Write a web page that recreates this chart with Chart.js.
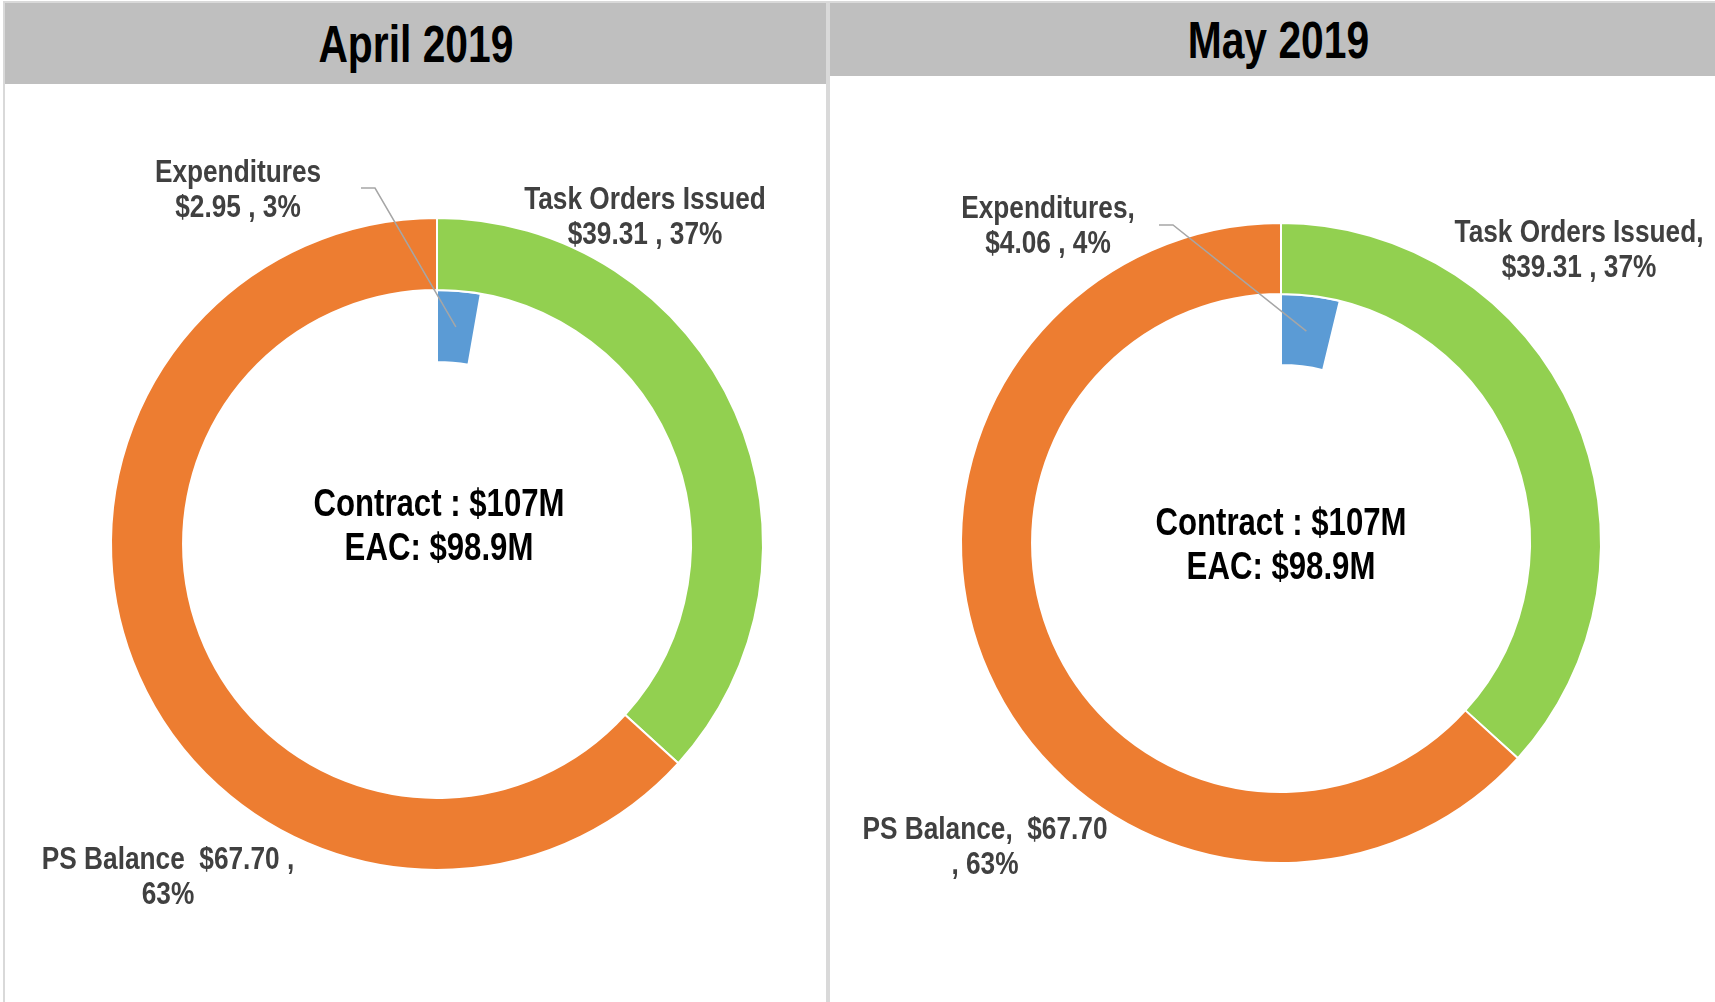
<!DOCTYPE html>
<html>
<head>
<meta charset="utf-8">
<script src="https://cdn.jsdelivr.net/npm/chart.js"></script>
<style>
  html, body { margin: 0; padding: 0; background: #fff; }
  body { width: 1715px; height: 1002px; position: relative; overflow: hidden;
         font-family: "Liberation Sans Narrow", "Arial Narrow", "Liberation Sans", sans-serif; }
  .panel { position: absolute; border: 2px solid #d9d9d9; box-sizing: border-box; background: #fff; }
  .panel .head { position: absolute; left: 0; top: 0; right: 0; background: #bfbfbf;
                 color: #000; font-weight: bold; font-size: 51px; text-align: center; }
  .panel .head span { display: inline-block; transform: scaleX(0.8); }
  #aprilPanel { left: 3px; top: 1px; width: 825px; height: 1010px; }
  #aprilPanel .head { height: 81px; line-height: 84px; }
  #mayPanel { left: 828px; top: 1px; width: 900px; height: 1010px; }
  #mayPanel .head { height: 73px; line-height: 76px; }
  canvas { position: absolute; }
  #aprilChart { left: 5px; top: 83px; }
  #mayChart { left: 830px; top: 75px; }
</style>
</head>
<body>
<div class="panel" id="aprilPanel"><div class="head"><span>April 2019</span></div></div>
<div class="panel" id="mayPanel"><div class="head"><span>May 2019</span></div></div>
<canvas id="aprilChart" width="820" height="919"></canvas>
<canvas id="mayChart" width="885" height="927"></canvas>
<script>
// Data ($M)
const categories = ['Task Orders Issued', 'PS Balance'];
const innerCategory = 'Expenditures';
const aprilValues = [39.31, 67.70];
const aprilPercents = [37, 63];
const aprilExpenditure = 2.95;
const aprilExpPercent = 3;
const mayValues = [39.31, 67.70];
const mayPercents = [37, 63];
const mayExpenditure = 4.06;
const mayExpPercent = 4;
const centerLines = ['Contract : $107M', 'EAC: $98.9M'];

const colors = ['#92d050', '#ed7d31'];
const expColor = '#5b9bd5';
const fontFamily = '"Liberation Sans Narrow", "Arial Narrow", "Liberation Sans", sans-serif';
const labelFont = 'bold 32px ' + fontFamily;
const centerFont = 'bold 38px ' + fontFamily;
const narrow = 0.82; // squeeze, no narrow font installed

function narrowText(ctx, t, x, y) {
    ctx.save();
    ctx.translate(x, y);
    ctx.scale(narrow, 1);
    ctx.fillText(t, 0, 0);
    ctx.restore();
}

// draws the data labels, leader line and the center text
const labelPlugin = {
    id: 'labelPlugin',
    afterDraw(chart, args, opts) {
        const ctx = chart.ctx;
        const meta0 = chart.getDatasetMeta(0);
        const cx = meta0.data[0].x;
        const cy = meta0.data[0].y;
        ctx.save();
        ctx.textAlign = 'center';
        ctx.textBaseline = 'middle';

        // leader line to the expenditures wedge
        const exp = chart.getDatasetMeta(1).data[0].getCenterPoint();
        ctx.strokeStyle = '#a6a6a6';
        ctx.lineWidth = 1.5;
        ctx.beginPath();
        ctx.moveTo(cx + opts.leader[0][0], cy + opts.leader[0][1]);
        ctx.lineTo(cx + opts.leader[1][0], cy + opts.leader[1][1]);
        ctx.lineTo(exp.x, exp.y);
        ctx.stroke();

        ctx.font = labelFont;
        ctx.fillStyle = '#404040';
        opts.labels.forEach(l => {
            l.lines.forEach((t, i) => narrowText(ctx, t, cx + l.pos[0], cy + l.pos[1] + i * 35));
        });

        ctx.font = centerFont;
        ctx.fillStyle = '#000';
        centerLines.forEach((t, i) => narrowText(ctx, t, cx + opts.center[0], cy + opts.center[1] + i * 44));
        ctx.restore();
    }
};

function makeChart(id, values, exp, radius, cutout, padding, plugOpts) {
    const total = values.reduce((a, b) => a + b, 0);
    return new Chart(document.getElementById(id).getContext('2d'), {
        type: 'doughnut',
        data: {
            labels: categories,
            datasets: [{
                data: values,
                backgroundColor: colors,
                borderColor: '#fff',
                borderWidth: 2
            }, {
                label: innerCategory,
                data: [exp, total - exp],
                backgroundColor: [expColor, 'rgba(0,0,0,0)'],
                borderColor: '#fff',
                borderWidth: [2, 0]
            }]
        },
        options: {
            responsive: false,
            animation: false,
            events: [],
            radius: radius,
            cutout: cutout,
            layout: { padding: padding },
            plugins: {
                legend: { display: false },
                tooltip: { enabled: false },
                labelPlugin: plugOpts
            }
        },
        plugins: [labelPlugin]
    });
}

const aprilChart = makeChart('aprilChart', aprilValues, aprilExpenditure, 326, '55.8%',
    { left: 44, top: 3, right: 0, bottom: 0 }, {
        leader: [[-76, -356], [-62, -356]],
        center: [2, -38],
        labels: [
            { pos: [-199, -371], lines: [innerCategory, `$${aprilExpenditure.toFixed(2)} , ${aprilExpPercent}%`] },
            { pos: [208, -344], lines: [categories[0], `$${aprilValues[0].toFixed(2)} , ${aprilPercents[0]}%`] },
            { pos: [-269, 316], lines: [`${categories[1]}  $${aprilValues[1].toFixed(2)} ,`, `${aprilPercents[1]}%`] }
        ]
    });

const mayChart = makeChart('mayChart', mayValues, mayExpenditure, 320, '55.6%',
    { left: 17, top: 9, right: 0, bottom: 0 }, {
        leader: [[-122, -318], [-108, -318]],
        center: [0, -18],
        labels: [
            { pos: [-233, -334], lines: [innerCategory + ',', `$${mayExpenditure.toFixed(2)} , ${mayExpPercent}%`] },
            { pos: [298, -310], lines: [categories[0] + ',', `$${mayValues[0].toFixed(2)} , ${mayPercents[0]}%`] },
            { pos: [-296, 287], lines: [`${categories[1]},  $${mayValues[1].toFixed(2)}`, `, ${mayPercents[1]}%`] }
        ]
    });
</script>
</body>
</html>
